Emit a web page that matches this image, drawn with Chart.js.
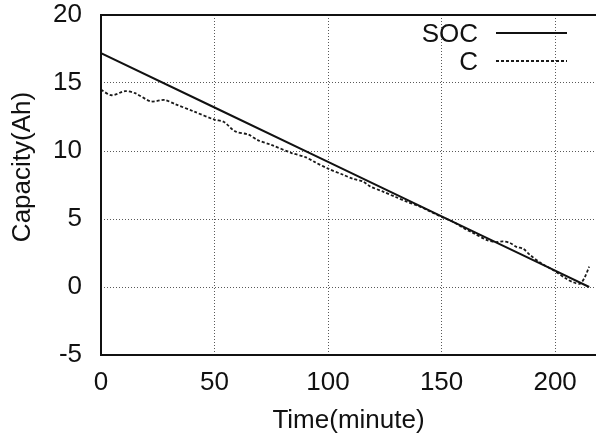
<!DOCTYPE html>
<html>
<head>
<meta charset="utf-8">
<title>Capacity vs Time</title>
<script src="https://cdn.jsdelivr.net/npm/chart.js@4.4.1/dist/chart.umd.min.js"></script>
<style>
  html, body { margin: 0; padding: 0; background: #fff; overflow: hidden; }
</style>
</head>
<body>
<canvas id="chart" width="596" height="444"></canvas>
<script>
  // SOC estimate (solid line)
  var socTime = [0, 50, 100, 150, 200, 215];
  var socCap = [17.2, 13.2, 9.2, 5.2, 1.2, 0];

  // measured capacity C (dashed line)
  var cTime = [0, 4.7, 10.6, 15, 22, 28, 32.6, 41, 50, 54, 59, 65, 69, 75, 84, 90, 94, 100,
    106.7, 111, 115.5, 118.5, 124.4, 130, 135, 140, 145, 150, 155, 160, 163, 170, 174, 177,
    180, 183, 186, 189, 193.4, 200, 205, 208, 211, 213, 215];
  var cCap = [14.5, 14.1, 14.4, 14.25, 13.65, 13.75, 13.45, 12.9, 12.3, 12.15, 11.45, 11.2, 10.8,
    10.45, 9.85, 9.55, 9.2, 8.7, 8.25, 7.95, 7.75, 7.4, 7.0, 6.6, 6.25, 5.95, 5.55, 5.15, 4.8,
    4.3, 4.05, 3.45, 3.3, 3.35, 3.25, 2.95, 2.8, 2.35, 1.8, 1.15, 0.6, 0.35, 0.25, 0.7, 1.5];

  var xTicks = [0, 50, 100, 150, 200];
  var yTicks = [-5, 0, 5, 10, 15, 20];
  var yTitle = "Capacity(Ah)";

  var FONT = '"Liberation Sans", Arial, sans-serif';

  function toPoints(xs, ys) {
    return xs.map(function (x, i) { return { x: x, y: ys[i] }; });
  }

  // frame on top, left and bottom; the right side is cut off in the original
  var frame = {
    id: "frame",
    afterDraw: function (chart) {
      var a = chart.chartArea;
      var ctx = chart.ctx;
      ctx.save();
      ctx.strokeStyle = "#111";
      ctx.lineWidth = 2;
      ctx.beginPath();
      ctx.moveTo(a.right, a.top);
      ctx.lineTo(a.left, a.top);
      ctx.lineTo(a.left, a.bottom);
      ctx.lineTo(a.right, a.bottom);
      ctx.stroke();
      ctx.restore();
    }
  };

  // y title sits a little above the middle of the axis in the original
  var sideTitle = {
    id: "sideTitle",
    afterDraw: function (chart) {
      var a = chart.chartArea;
      var ctx = chart.ctx;
      ctx.save();
      ctx.translate(23, a.top + 152);
      ctx.rotate(-Math.PI / 2);
      ctx.font = "26px " + FONT;
      ctx.fillStyle = "#111";
      ctx.textAlign = "center";
      ctx.textBaseline = "middle";
      ctx.fillText(yTitle, 0, 0);
      ctx.restore();
    }
  };

  // legend inside the plot: label on the left, line sample on the right
  var insideLegend = {
    id: "insideLegend",
    afterDatasetsDraw: function (chart) {
      var ctx = chart.ctx;
      var a = chart.chartArea;
      chart.data.datasets.forEach(function (ds, i) {
        var y = a.top + 18 + i * 28;
        ctx.save();
        ctx.font = "26px " + FONT;
        ctx.fillStyle = "#111";
        ctx.textAlign = "right";
        ctx.textBaseline = "middle";
        ctx.fillText(ds.label, a.left + 377, y + 2);
        ctx.strokeStyle = ds.borderColor;
        ctx.lineWidth = ds.borderWidth;
        ctx.setLineDash(ds.borderDash || []);
        ctx.beginPath();
        ctx.moveTo(a.left + 395, y);
        ctx.lineTo(a.left + 466, y);
        ctx.stroke();
        ctx.restore();
      });
    }
  };

  new Chart(document.getElementById("chart"), {
    type: "line",
    data: {
      datasets: [
        {
          label: "SOC",
          data: toPoints(socTime, socCap),
          borderColor: "#111",
          borderWidth: 2,
          pointRadius: 0,
          tension: 0
        },
        {
          label: "C",
          data: toPoints(cTime, cCap),
          borderColor: "#1a1a1a",
          borderWidth: 1.8,
          borderDash: [3, 2],
          pointRadius: 0,
          tension: 0.3
        }
      ]
    },
    options: {
      responsive: false,
      animation: false,
      layout: { padding: 0 },
      plugins: {
        legend: { display: false },
        tooltip: { enabled: false }
      },
      scales: {
        x: {
          type: "linear",
          min: 0,
          max: 218,
          afterFit: function (s) {
            s.height = 89;
            s.paddingLeft = 0;
            s.paddingRight = 0;
          },
          afterBuildTicks: function (s) {
            s.ticks = xTicks.map(function (v) { return { value: v }; });
          },
          ticks: {
            color: "#111",
            padding: 12,
            maxRotation: 0,
            font: { family: FONT, size: 26 }
          },
          grid: { color: "rgba(0,0,0,0.65)", lineWidth: 1, drawTicks: false },
          border: { display: false, dash: [1, 2] },
          title: {
            display: true,
            text: "Time(minute)",
            color: "#111",
            font: { family: FONT, size: 26 },
            padding: { top: 0, bottom: 8 }
          }
        },
        y: {
          type: "linear",
          min: -5,
          max: 20,
          afterFit: function (s) {
            s.width = 101;
            s.paddingTop = 15;
            s.paddingBottom = 0;
          },
          afterBuildTicks: function (s) {
            s.ticks = yTicks.map(function (v) { return { value: v }; });
          },
          ticks: {
            color: "#111",
            padding: 19,
            font: { family: FONT, size: 26 }
          },
          grid: { color: "rgba(0,0,0,0.65)", lineWidth: 1, drawTicks: false },
          border: { display: false, dash: [1, 2] }
        }
      }
    },
    plugins: [frame, sideTitle, insideLegend]
  });
</script>
</body>
</html>
